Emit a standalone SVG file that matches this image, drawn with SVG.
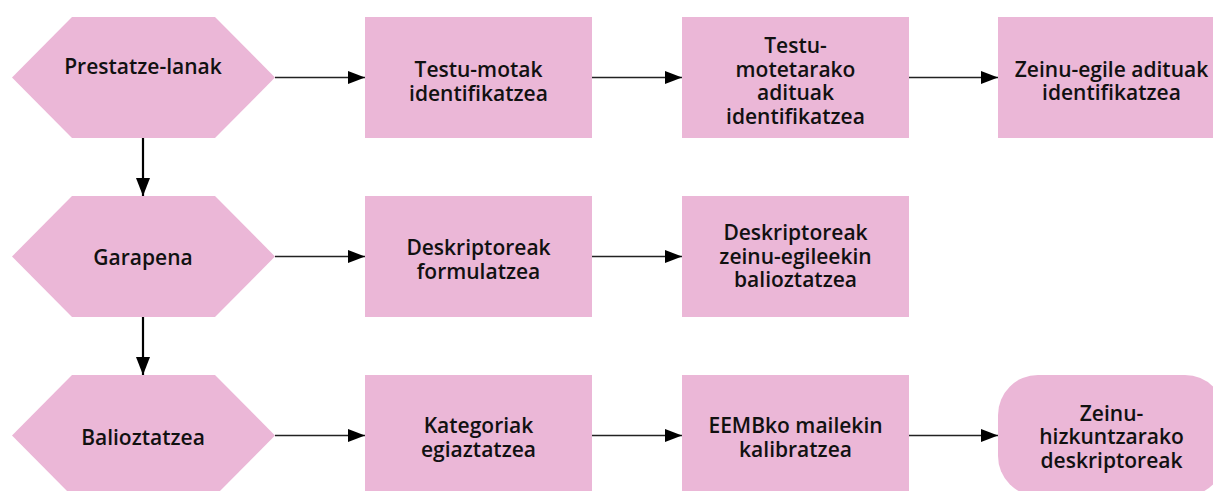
<svg xmlns="http://www.w3.org/2000/svg" width="1213" height="491" viewBox="0 0 1213 491">
  <defs>
    <marker id="arrow-h" markerUnits="userSpaceOnUse" markerWidth="17" markerHeight="13" refX="17" refY="6.5" orient="auto">
      <path d="M0,0 L17,6.5 L0,13 Z" fill="#000"/>
    </marker>
    <marker id="arrow-v" markerUnits="userSpaceOnUse" markerWidth="18" markerHeight="14" refX="18" refY="7" orient="auto">
      <path d="M0,0 L18,7 L0,14 Z" fill="#000"/>
    </marker>
  </defs>
  <style>
    .shape { fill: #EBB7D7; }
    .label { font-family: "Open Sans", "Liberation Sans", sans-serif; font-weight: 600; font-size: 21px; fill: #111; text-anchor: middle; }
    .flow { stroke: #222; stroke-width: 1.6; fill: none; marker-end: url(#arrow-h); }
    .down { stroke: #000; stroke-width: 2.2; fill: none; marker-end: url(#arrow-v); }
  </style>

  <rect width="1213" height="491" fill="#fff"/>

  <!-- Phase hexagons -->
  <g id="prestatze-lanak">
    <polygon class="shape" points="12,77.5 72,17 215,17 275,77.5 215,138 72,138"/>
    <text class="label" x="143" y="74">Prestatze-lanak</text>
  </g>
  <g id="garapena">
    <polygon class="shape" points="12,256.5 72,196 215,196 275,256.5 215,317 72,317"/>
    <text class="label" x="143" y="265">Garapena</text>
  </g>
  <g id="balioztatzea">
    <polygon class="shape" points="12,435.5 72,375 215,375 275,435.5 215,496 72,496"/>
    <text class="label" x="143" y="445">Balioztatzea</text>
  </g>

  <!-- Row 1 steps -->
  <g id="testu-motak">
    <rect class="shape" x="365" y="17" width="227" height="121"/>
    <text class="label" x="478.5" y="77">Testu-motak</text>
    <text class="label" x="478.5" y="101">identifikatzea</text>
  </g>
  <g id="testu-motetarako">
    <rect class="shape" x="682" y="17" width="227" height="121"/>
    <text class="label" x="795.5" y="53">Testu-</text>
    <text class="label" x="795.5" y="77">motetarako</text>
    <text class="label" x="795.5" y="100">adituak</text>
    <text class="label" x="795.5" y="124">identifikatzea</text>
  </g>
  <g id="zeinu-egile-adituak">
    <rect class="shape" x="998" y="17" width="227" height="121"/>
    <text class="label" x="1111.5" y="77">Zeinu-egile adituak</text>
    <text class="label" x="1111.5" y="100">identifikatzea</text>
  </g>

  <!-- Row 2 steps -->
  <g id="deskriptoreak-formulatzea">
    <rect class="shape" x="365" y="196" width="227" height="121"/>
    <text class="label" x="478.5" y="255">Deskriptoreak</text>
    <text class="label" x="478.5" y="279">formulatzea</text>
  </g>
  <g id="deskriptoreak-balioztatzea">
    <rect class="shape" x="682" y="196" width="227" height="121"/>
    <text class="label" x="795.5" y="240">Deskriptoreak</text>
    <text class="label" x="795.5" y="264">zeinu-egileekin</text>
    <text class="label" x="795.5" y="287">balioztatzea</text>
  </g>

  <!-- Row 3 steps -->
  <g id="kategoriak">
    <rect class="shape" x="365" y="375" width="227" height="121"/>
    <text class="label" x="478.5" y="433">Kategoriak</text>
    <text class="label" x="478.5" y="457">egiaztatzea</text>
  </g>
  <g id="eemb-kalibratzea">
    <rect class="shape" x="682" y="375" width="227" height="121"/>
    <text class="label" x="795.5" y="433">EEMBko mailekin</text>
    <text class="label" x="795.5" y="457">kalibratzea</text>
  </g>
  <g id="zeinu-hizkuntzarako">
    <rect class="shape" x="998" y="375" width="227" height="121" rx="40" ry="40"/>
    <text class="label" x="1111.5" y="421">Zeinu-</text>
    <text class="label" x="1111.5" y="444">hizkuntzarako</text>
    <text class="label" x="1111.5" y="468">deskriptoreak</text>
  </g>

  <!-- Connectors -->
  <g id="connectors">
    <line class="flow" x1="275" y1="77.5" x2="365" y2="77.5"/>
    <line class="flow" x1="592" y1="77.5" x2="682" y2="77.5"/>
    <line class="flow" x1="909" y1="77.5" x2="998" y2="77.5"/>
    <line class="flow" x1="275" y1="256.5" x2="365" y2="256.5"/>
    <line class="flow" x1="592" y1="256.5" x2="682" y2="256.5"/>
    <line class="flow" x1="275" y1="435.5" x2="365" y2="435.5"/>
    <line class="flow" x1="592" y1="435.5" x2="682" y2="435.5"/>
    <line class="flow" x1="909" y1="435.5" x2="998" y2="435.5"/>
    <line class="down" x1="143" y1="138" x2="143" y2="196"/>
    <line class="down" x1="143" y1="317" x2="143" y2="375"/>
  </g>
</svg>
